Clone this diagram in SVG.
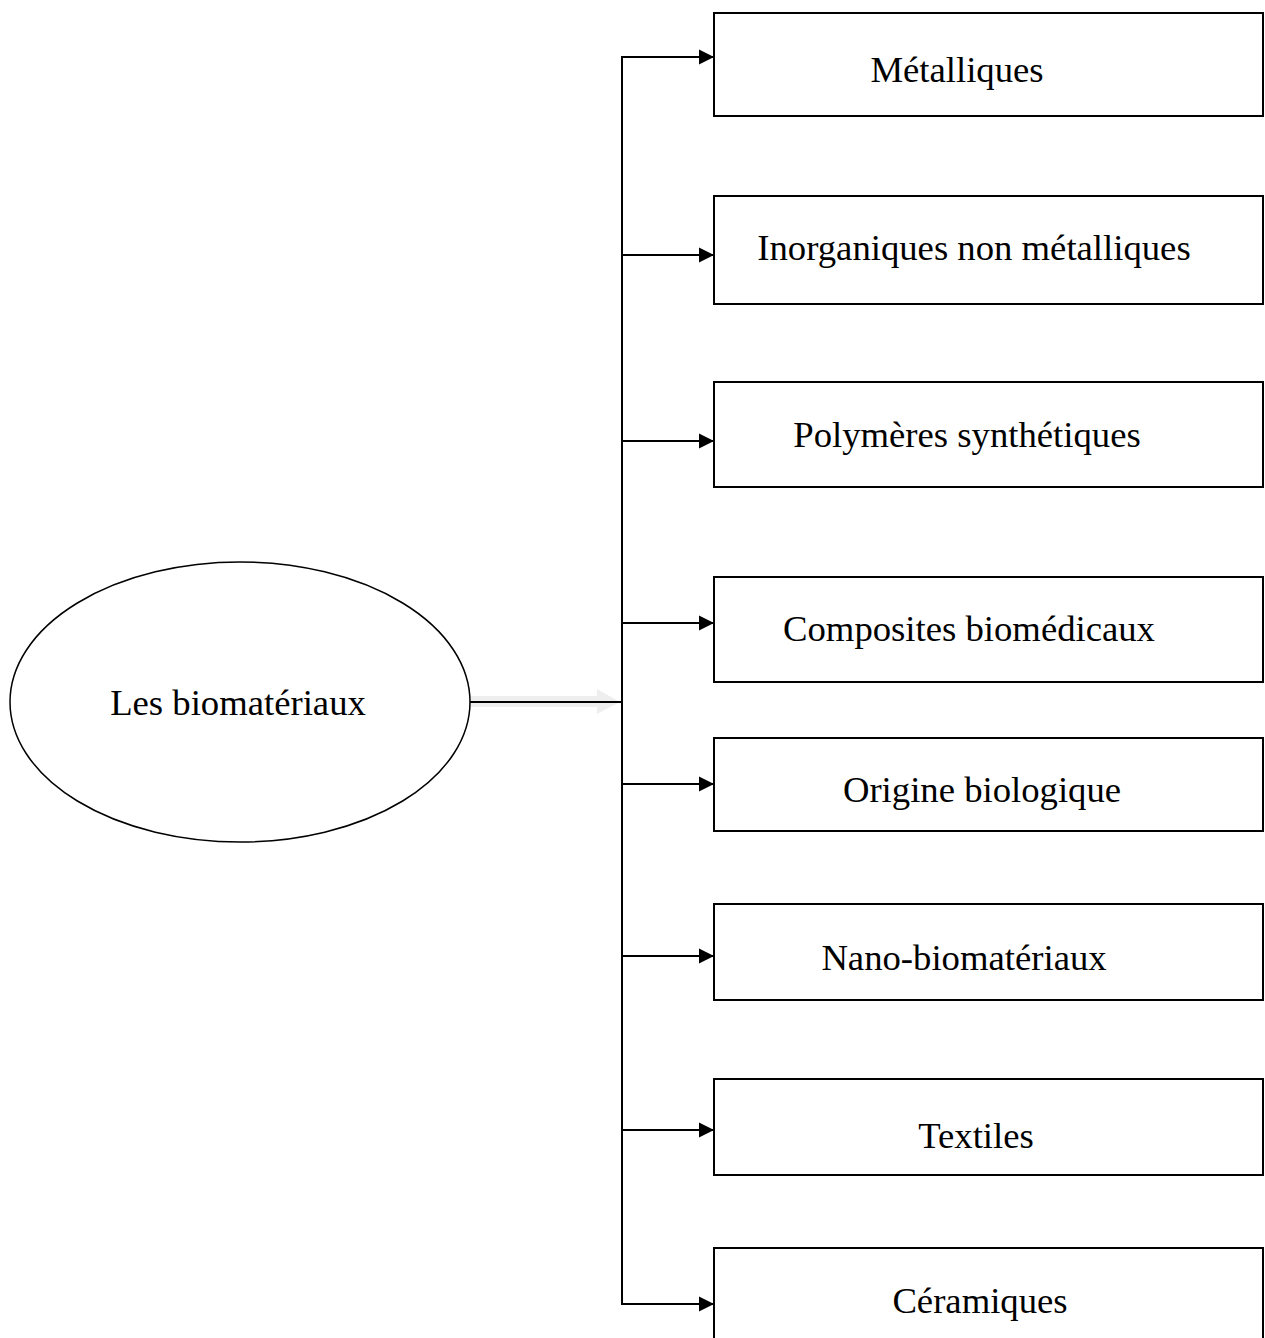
<svg xmlns="http://www.w3.org/2000/svg" width="1265" height="1338" viewBox="0 0 1265 1338">
<defs>
<marker id="ah" markerWidth="16" markerHeight="16" refX="15" refY="8" orient="auto" markerUnits="userSpaceOnUse">
<path d="M0,0.5 L15,8 L0,15.5 Z" fill="#000"/>
</marker>
<style>
.box{fill:#fff;stroke:#000;stroke-width:2}
.lbl{font-family:"Liberation Serif","Times New Roman",serif;font-size:36.7px;fill:#000}
.ln{fill:none;stroke:#000;stroke-width:2}
</style>
</defs>
<rect width="1265" height="1338" fill="#fff"/>
<g id="connectors">
<path d="M470,696 L597,696 L597,689 L620,702 L597,714 L597,707 L470,707 Z" fill="#eeeeee"/>
<line class="ln" x1="469" y1="702" x2="622" y2="702"/>
<line class="ln" x1="622" y1="56" x2="622" y2="1305"/>
<line class="ln" x1="621" y1="57" x2="714" y2="57" marker-end="url(#ah)"/>
<line class="ln" x1="621" y1="255" x2="714" y2="255" marker-end="url(#ah)"/>
<line class="ln" x1="621" y1="441" x2="714" y2="441" marker-end="url(#ah)"/>
<line class="ln" x1="621" y1="623" x2="714" y2="623" marker-end="url(#ah)"/>
<line class="ln" x1="621" y1="784" x2="714" y2="784" marker-end="url(#ah)"/>
<line class="ln" x1="621" y1="956" x2="714" y2="956" marker-end="url(#ah)"/>
<line class="ln" x1="621" y1="1130" x2="714" y2="1130" marker-end="url(#ah)"/>
<line class="ln" x1="621" y1="1304" x2="714" y2="1304" marker-end="url(#ah)"/>
</g>
<g id="root">
<ellipse cx="240" cy="702" rx="230" ry="140" fill="#fff" stroke="#000" stroke-width="1.5"/>
<text class="lbl" x="238" y="715" text-anchor="middle">Les biomatériaux</text>
</g>
<g id="n1"><rect class="box" x="714" y="13" width="549" height="103"/><text class="lbl" x="957" y="82" text-anchor="middle">Métalliques</text></g>
<g id="n2"><rect class="box" x="714" y="196" width="549" height="108"/><text class="lbl" x="974" y="260" text-anchor="middle">Inorganiques non métalliques</text></g>
<g id="n3"><rect class="box" x="714" y="382" width="549" height="105"/><text class="lbl" x="967" y="447" text-anchor="middle">Polymères synthétiques</text></g>
<g id="n4"><rect class="box" x="714" y="577" width="549" height="105"/><text class="lbl" x="969" y="641" text-anchor="middle">Composites biomédicaux</text></g>
<g id="n5"><rect class="box" x="714" y="738" width="549" height="93"/><text class="lbl" x="982" y="802" text-anchor="middle">Origine biologique</text></g>
<g id="n6"><rect class="box" x="714" y="904" width="549" height="96"/><text class="lbl" x="964" y="970" text-anchor="middle">Nano-biomatériaux</text></g>
<g id="n7"><rect class="box" x="714" y="1079" width="549" height="96"/><text class="lbl" x="976" y="1148" text-anchor="middle">Textiles</text></g>
<g id="n8"><rect class="box" x="714" y="1248" width="549" height="100"/><text class="lbl" x="980" y="1313" text-anchor="middle">Céramiques</text></g>
</svg>
